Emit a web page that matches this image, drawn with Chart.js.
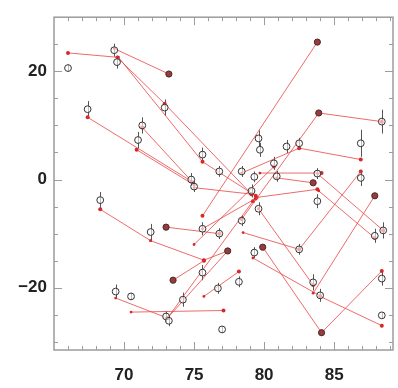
<!DOCTYPE html>
<html>
<head>
<meta charset="utf-8">
<script src="https://cdn.jsdelivr.net/npm/chart.js@4"></script>
<style>
  html, body { margin: 0; padding: 0; background: #fff; }
  #wrap { width: 398px; height: 388px; }
</style>
</head>
<body>
<div id="wrap"><canvas id="chart" width="398" height="388"></canvas></div>
<script>
// axis ticks
const xTicks = [70, 75, 80, 85];
const yTicks = [-20, 0, 20];

// open circles (measured) with vertical error bars
const circX = [66.0, 69.3, 69.5, 67.4, 72.9, 71.3, 71.0, 75.6, 74.8, 75.0, 76.8, 68.3, 71.9, 75.6, 76.8, 75.6, 69.4, 70.5, 74.2, 73.0, 73.2, 76.7, 78.2, 77.0, 78.4, 79.3, 82.5, 83.5, 84.0, 88.4, 88.4, 87.9, 88.5, 79.6, 79.7, 82.5, 81.6, 80.7, 78.4, 79.3, 80.9, 83.8, 86.9, 86.9, 83.8, 79.1, 79.6, 88.4];
const circY = [20.6, 23.9, 21.7, 13.0, 13.3, 10.0, 7.3, 4.6, 0.0, -1.3, 1.5, -3.8, -9.7, -9.1, -10.0, -17.2, -20.7, -21.6, -22.2, -25.3, -26.1, -20.1, -18.9, -27.7, -7.6, -13.5, -12.9, -19.0, -21.4, -18.3, -25.1, -10.4, -9.4, 7.6, 5.5, 6.7, 6.1, 3.0, 1.5, 0.5, 0.6, 1.1, 0.3, 6.7, -4.0, -2.1, -5.4, 10.7];
const circErr = [0.6, 1.2, 1.2, 1.5, 1.5, 1.5, 1.5, 1.3, 1.2, 1.0, 1.0, 1.5, 1.5, 1.2, 1.0, 1.4, 1.3, 0.6, 1.3, 1.0, 1.0, 1.0, 1.0, 0.6, 1.0, 1.0, 1.0, 1.5, 1.2, 1.3, 0.6, 1.3, 1.5, 1.5, 1.3, 1.0, 1.2, 1.2, 1.0, 1.0, 1.0, 1.0, 1.5, 2.5, 1.3, 1.2, 1.2, 2.2];

// dark filled markers
const darkX = [73.2, 83.8, 83.9, 73.0, 73.5, 79.9, 84.1, 87.9, 83.5, 77.4];
const darkY = [19.5, 25.4, 12.3, -8.8, -18.6, -12.5, -28.3, -3.0, -0.6, -13.2];

// red connecting segments (start -> end)
const segX0 = [69.5, 69.3, 69.5, 69.6, 72.9, 83.8, 83.9, 83.9, 74.8, 75.0, 75.0, 75.0, 75.6, 71.9, 71.9, 75.7, 73.0, 75.6, 78.4, 82.5, 79.7, 80.9, 79.5, 83.8, 83.9, 84.1, 84.1, 83.5, 82.5, 79.6, 79.2, 84.0, 78.5, 69.4, 70.5, 73.1, 73.1, 75.7, 73.5, 75.0];
const segY0 = [22.6, 24.2, 22.6, 22.6, 14.0, 25.4, 12.3, 12.3, -0.3, -0.8, -1.0, -1.5, 3.3, -11.3, -11.3, -14.9, -8.8, -9.1, 1.2, 5.8, 1.2, 0.3, -3.3, 1.1, -2.1, -28.3, -28.3, -21.0, -12.9, -5.4, -14.5, -21.6, -9.8, -21.9, -24.5, -25.6, -25.6, -21.6, -18.6, -12.0];
const segX1 = [66.0, 73.2, 72.9, 75.6, 79.1, 75.6, 88.4, 78.4, 67.4, 71.3, 70.9, 79.1, 79.4, 68.3, 75.7, 77.4, 76.8, 79.4, 82.5, 86.9, 84.1, 83.5, 83.8, 88.5, 87.9, 88.4, 79.9, 87.9, 86.9, 83.5, 84.0, 88.4, 82.5, 73.1, 77.1, 77.4, 79.2, 78.2, 75.7, 80.7];
const segY1 = [23.4, 19.5, 14.0, 3.3, -2.7, -6.7, 10.7, -7.3, 11.5, 9.6, 5.5, -2.7, -3.0, -5.5, -14.9, -13.2, -10.0, -3.5, 5.8, 3.7, 1.2, -0.6, -1.8, -9.4, -10.8, -16.9, -12.5, -3.0, 1.5, -19.5, -21.5, -27.0, -12.9, -25.6, -24.2, -13.2, -4.0, -17.0, -15.0, 2.4];

const LINE_RED = 'rgba(232, 70, 70, 0.8)';
const DOT_RED = '#d62a2a';

// vertical error bars under the circles
const errorBars = {
    id: 'errorBars',
    beforeDatasetsDraw(chart) {
        const { ctx, scales: { x, y } } = chart;
        ctx.save();
        ctx.strokeStyle = '#555';
        ctx.lineWidth = 1;
        circX.forEach((cx, i) => {
            const px = Math.round(x.getPixelForValue(cx)) + 0.5;
            ctx.beginPath();
            ctx.moveTo(px, y.getPixelForValue(circY[i] - circErr[i]));
            ctx.lineTo(px, y.getPixelForValue(circY[i] + circErr[i]));
            ctx.stroke();
        });
        ctx.restore();
    }
};

// box frame with inward ticks on all four sides
const frameTicks = {
    id: 'frameTicks',
    afterDatasetsDraw(chart) {
        const { ctx, chartArea: a, scales: { x, y } } = chart;
        ctx.save();
        ctx.strokeStyle = '#9c9c9c';
        ctx.lineWidth = 1.5;
        ctx.strokeRect(a.left, a.top, a.right - a.left, a.bottom - a.top);
        ctx.lineWidth = 1;
        ctx.beginPath();
        for (let v = 66; v <= 89; v++) {
            const px = Math.round(x.getPixelForValue(v)) + 0.5;
            const len = v % 5 === 0 ? 8 : 4;
            ctx.moveTo(px, a.bottom); ctx.lineTo(px, a.bottom - len);
            ctx.moveTo(px, a.top); ctx.lineTo(px, a.top + len);
        }
        for (let v = -30; v <= 30; v += 5) {
            const py = Math.round(y.getPixelForValue(v)) + 0.5;
            const len = v % 20 === 0 ? 8 : 4;
            ctx.moveTo(a.left, py); ctx.lineTo(a.left + len, py);
            ctx.moveTo(a.right, py); ctx.lineTo(a.right - len, py);
        }
        ctx.stroke();
        ctx.restore();
    }
};

document.addEventListener('DOMContentLoaded', function() {
    const ctx = document.getElementById('chart').getContext('2d');

    const segDatasets = segX0.map((x0, i) => ({
        type: 'scatter',
        data: [{ x: x0, y: segY0[i] }, { x: segX1[i], y: segY1[i] }],
        showLine: true,
        borderColor: LINE_RED,
        borderWidth: 1,
        pointRadius: [1.4, 2],
        pointBackgroundColor: DOT_RED,
        pointBorderWidth: 0,
        order: 3
    }));

    new Chart(ctx, {
        type: 'scatter',
        data: {
            datasets: [{
                data: circX.map((v, i) => ({ x: v, y: circY[i] })),
                pointStyle: 'circle',
                pointRadius: 3.4,
                pointBorderWidth: 1,
                borderColor: '#333',
                backgroundColor: 'rgba(255,255,255,0.6)',
                order: 1
            }, {
                data: darkX.map((v, i) => ({ x: v, y: darkY[i] })),
                pointStyle: 'circle',
                pointRadius: 3.1,
                pointBorderWidth: 1,
                borderColor: '#4a2a2a',
                backgroundColor: '#9a3a3a',
                order: 2
            }, ...segDatasets]
        },
        options: {
            responsive: false,
            animation: false,
            layout: { padding: { top: 16, right: 3, left: 0, bottom: 0 } },
            plugins: {
                legend: { display: false },
                tooltip: { enabled: false }
            },
            scales: {
                x: {
                    type: 'linear',
                    min: 65,
                    max: 89.2,
                    grid: { display: false, drawTicks: false },
                    border: { display: false },
                    afterBuildTicks: (s) => { s.ticks = xTicks.map(v => ({ value: v })); },
                    afterFit: (s) => { s.height = 38; },
                    ticks: {
                        padding: 15,
                        color: '#222',
                        font: { family: 'Liberation Sans, Arial, sans-serif', size: 17, weight: 'bold' }
                    }
                },
                y: {
                    type: 'linear',
                    min: -31.5,
                    max: 30,
                    grid: { display: false, drawTicks: false },
                    border: { display: false },
                    afterBuildTicks: (s) => { s.ticks = yTicks.map(v => ({ value: v })); },
                    afterFit: (s) => { s.width = 54; },
                    ticks: {
                        padding: 7,
                        color: '#222',
                        font: { family: 'Liberation Sans, Arial, sans-serif', size: 17, weight: 'bold' },
                        callback: (v) => String(v).replace('-', '\u2212')
                    }
                }
            }
        },
        plugins: [errorBars, frameTicks]
    });
});
</script>
</body>
</html>
